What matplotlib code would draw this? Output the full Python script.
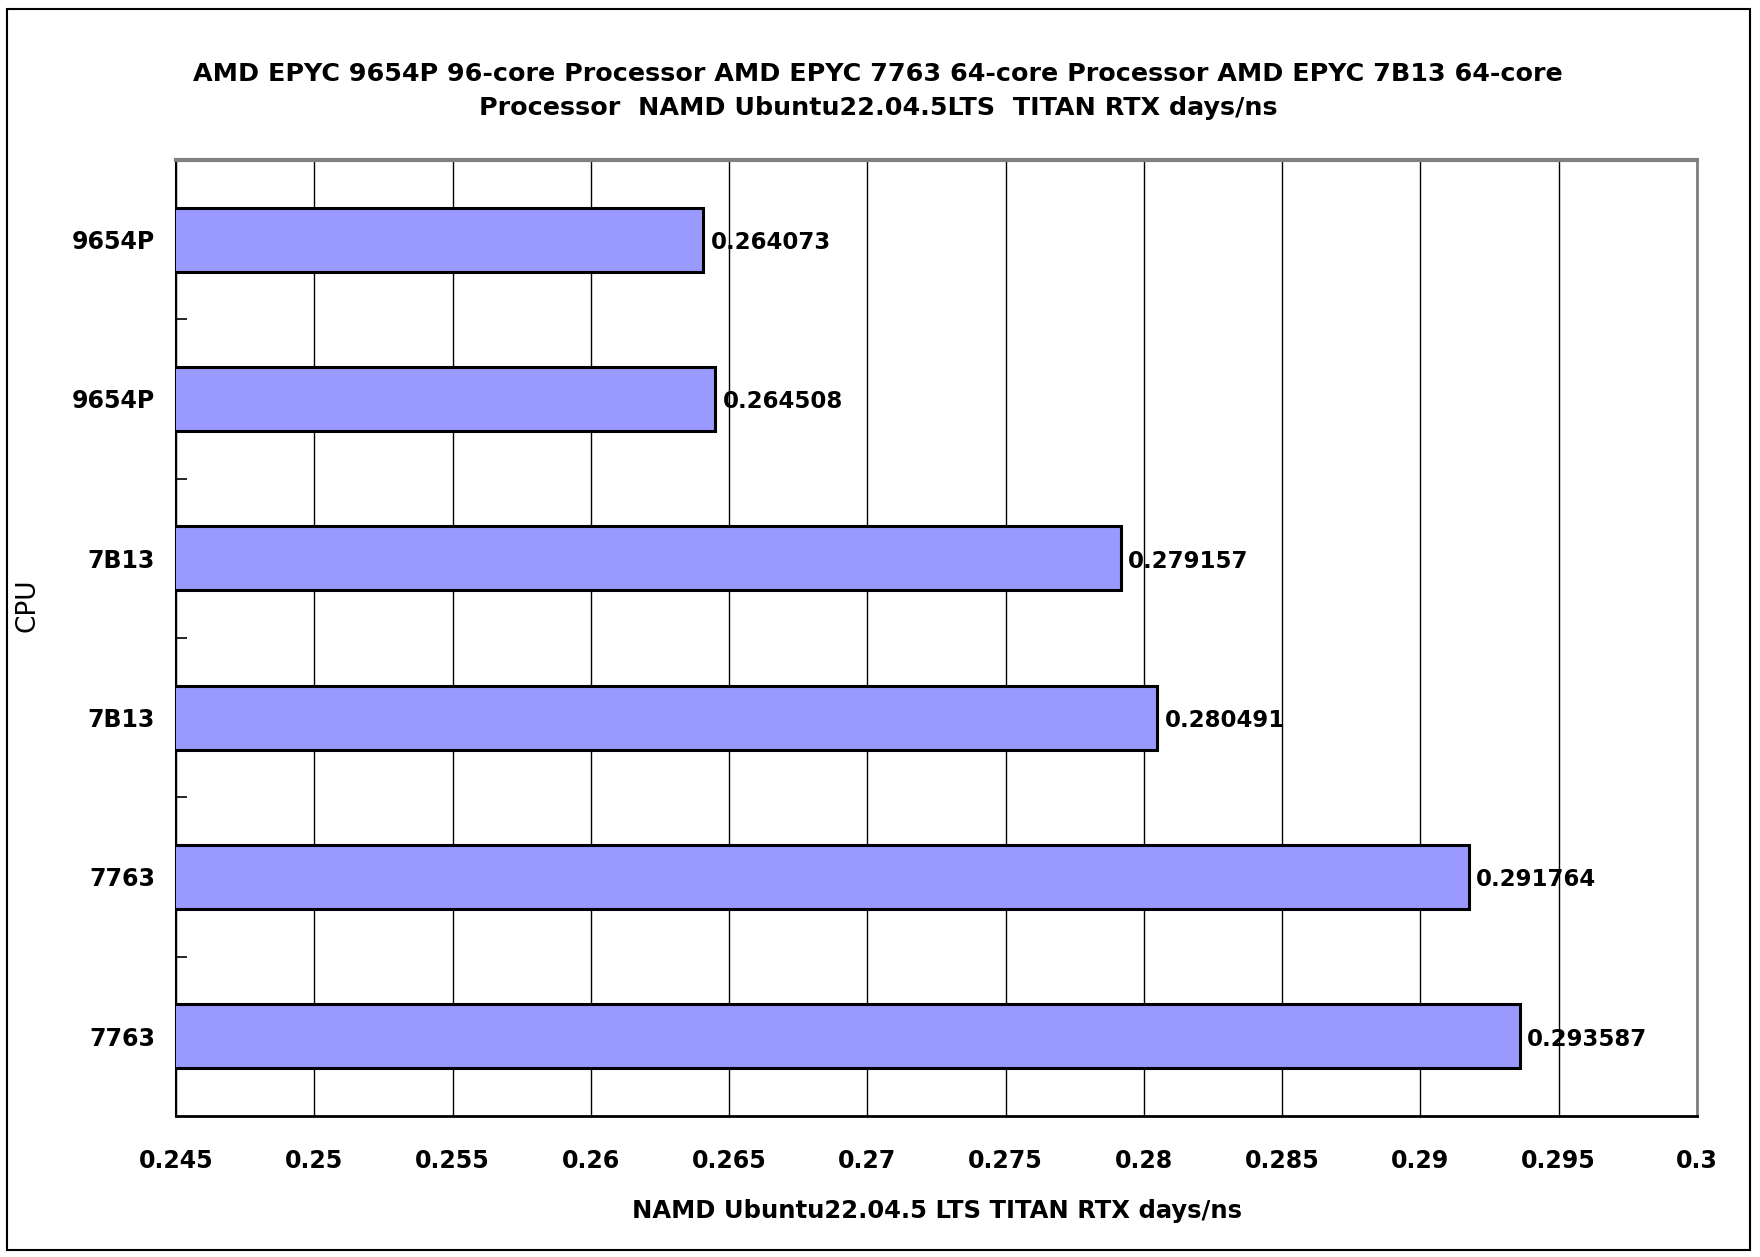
import matplotlib
matplotlib.use("Agg")
import matplotlib.pyplot as plt
from matplotlib.patches import Rectangle
import numpy as np

categories = ["9654P", "9654P", "7B13", "7B13", "7763", "7763"]
values = [0.264073, 0.264508, 0.279157, 0.280491, 0.291764, 0.293587]
value_labels = ["0.264073", "0.264508", "0.279157", "0.280491", "0.291764", "0.293587"]
xticks = [0.245, 0.25, 0.255, 0.26, 0.265, 0.27, 0.275, 0.28, 0.285, 0.29, 0.295, 0.3]
xtick_labels = ["0.245", "0.25", "0.255", "0.26", "0.265", "0.27", "0.275", "0.28",
                "0.285", "0.29", "0.295", "0.3"]
title = ("AMD EPYC 9654P 96-core Processor AMD EPYC 7763 64-core Processor AMD EPYC 7B13 64-core\n"
         "Processor  NAMD Ubuntu22.04.5LTS  TITAN RTX days/ns")
xlabel = "NAMD Ubuntu22.04.5 LTS TITAN RTX days/ns"
ylabel = "CPU"

plt.rcParams['font.family'] = ['DejaVu Sans']

W, H = 1760, 1257
fig = plt.figure(figsize=(W / 100, H / 100), dpi=100)
fig.patch.set_facecolor("white")

ax = fig.add_axes([176 / W, 1 - 1116 / H, (1697 - 176) / W, (1116 - 160) / H])

n = len(categories)
ypos = np.arange(n)
ax.barh(ypos, values, height=0.40, color="#9999FF", edgecolor="black",
        linewidth=2.2, zorder=3)
ax.set_xlim(0.245, 0.3)
ax.set_ylim(n - 0.5, -0.5)

ax.set_xticks(xticks)
ax.set_xticklabels(xtick_labels, fontsize=17, fontweight="bold")
ax.set_yticks(ypos)
ax.set_yticklabels(categories, fontsize=17, fontweight="bold")
ax.tick_params(axis="x", length=0, pad=24)
ax.tick_params(axis="y", length=0, pad=15)
ax.set_yticks(np.arange(0.5, n - 1, 1.0), minor=True)
ax.tick_params(axis="y", which="minor", direction="in", length=8, width=1.2, color="black")

ax.grid(axis="x", color="black", linewidth=1.0, zorder=0)
ax.set_axisbelow(True)

for y, v, lab in zip(ypos, values, value_labels):
    ax.annotate(lab, xy=(v, y), xytext=(5, -2), textcoords="offset points",
                va="center", ha="left", fontsize=16.5, fontweight="bold", zorder=4)

ax.spines["top"].set_color("#808080")
ax.spines["top"].set_linewidth(3)
ax.spines["right"].set_color("#808080")
ax.spines["right"].set_linewidth(2)
ax.spines["left"].set_color("black")
ax.spines["left"].set_linewidth(1.5)
ax.spines["bottom"].set_color("black")
ax.spines["bottom"].set_linewidth(2)

fig.text(937 / W, 1 - 1211 / H, xlabel, ha="center", va="center", fontsize=17.5,
         fontweight="bold")
fig.text(28 / W, 1 - 605 / H, ylabel, ha="center", va="center", fontsize=19,
         rotation=90)

fig.text(878 / W, 1 - 91 / H, title, ha="center", va="center", fontsize=18.3,
         fontweight="bold", linespacing=1.55)

fig.patches.append(Rectangle((7 / W, 1 - 1250 / H), (1750 - 7) / W, (1250 - 9) / H,
                             transform=fig.transFigure, fill=False,
                             edgecolor="black", linewidth=1.5))

fig.savefig("out.png", dpi=100, facecolor="white")
